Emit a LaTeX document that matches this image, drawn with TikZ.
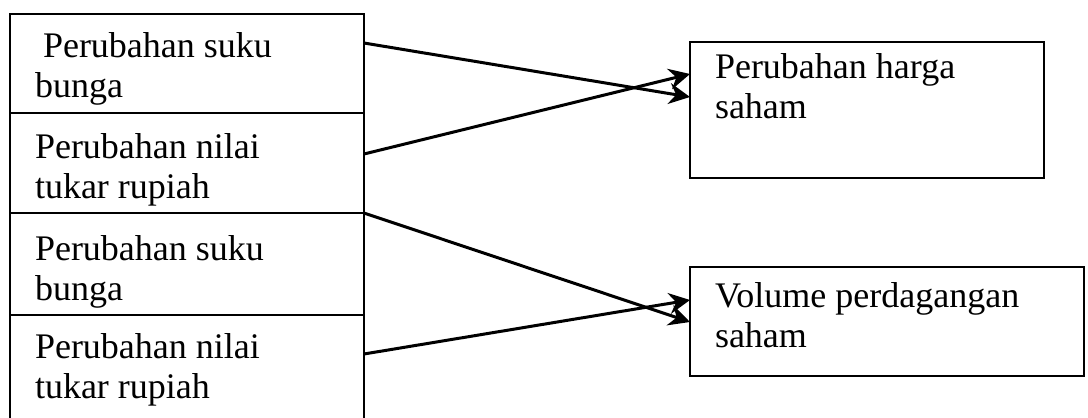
\documentclass[tikz,border=0pt]{standalone}
\usepackage{fontspec}
\setmainfont{Liberation Serif}
\usetikzlibrary{arrows.meta}
\begin{document}
\begin{tikzpicture}[x=1pt,y=-1pt,
  box/.style={draw, line width=2pt, inner sep=0pt, outer sep=0pt},
  lbl/.style={anchor=base west, inner sep=0pt, outer sep=0pt,
    font=\fontsize{36}{40}\selectfont},
  arr/.style={line width=3pt,
    -{Stealth[length=21pt,width=21pt,inset=7pt]}}]
\useasboundingbox (0,0) rectangle (1088,418);
% left column of stacked boxes
\node[box, minimum width=354pt, minimum height=99pt]  (b1) at (187,63.5) {};
\node[box, minimum width=354pt, minimum height=100pt] (b2) at (187,163) {};
\node[box, minimum width=354pt, minimum height=102pt] (b3) at (187,264) {};
\node[box, minimum width=354pt, minimum height=106pt] (b4) at (187,368) {};
% right boxes
\node[box, minimum width=354pt, minimum height=136pt] (r1) at (867,110) {};
\node[box, minimum width=394pt, minimum height=109pt] (r2) at (887,321.5) {};
% labels
\node[lbl] (t1a) at (43,57)  {Perubahan suku};
\node[lbl] (t1b) at (35,97)  {bunga};
\node[lbl] (t2a) at (35,158) {Perubahan nilai};
\node[lbl] (t2b) at (35,198) {tukar rupiah};
\node[lbl] (t3a) at (35,260) {Perubahan suku};
\node[lbl] (t3b) at (35,300) {bunga};
\node[lbl] (t4a) at (35,358) {Perubahan nilai};
\node[lbl] (t4b) at (35,398) {tukar rupiah};
\node[lbl] (u1a) at (715,78)  {Perubahan harga};
\node[lbl] (u1b) at (715,118) {saham};
\node[lbl] (u2a) at (715,307) {Volume perdagangan};
\node[lbl] (u2b) at (715,347) {saham};
% connectors
\draw[arr] ([yshift=20.5pt]b1.east) -- ([yshift=13pt]r1.west);
\draw[arr] ([yshift=9pt]b2.east) -- ([yshift=36pt]r1.west);
\draw[arr] (b3.north east) -- ([yshift=-0.5pt]r2.west);
\draw[arr] ([yshift=14pt]b4.east) -- ([yshift=21.5pt]r2.west);
\end{tikzpicture}
\end{document}
